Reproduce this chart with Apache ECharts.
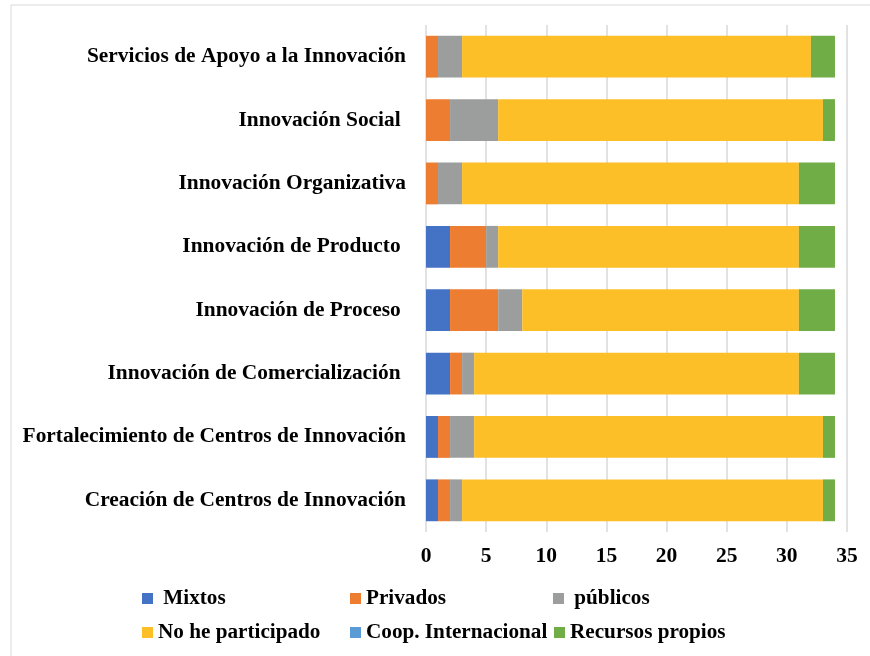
<!DOCTYPE html>
<html>
<head>
<meta charset="utf-8">
<script src="https://cdn.jsdelivr.net/npm/echarts@6/dist/echarts.min.js"></script>
<style>
  html, body { margin: 0; padding: 0; background: #fff; }
  #chart { width: 870px; height: 656px; }
</style>
</head>
<body>
<div id="chart"></div>
<script>
// categorías (de abajo hacia arriba, como en el eje)
const categories = [
  "Creación de Centros de Innovación",
  "Fortalecimiento de Centros de Innovación",
  "Innovación de Comercialización ",
  "Innovación de Proceso ",
  "Innovación de Producto ",
  "Innovación Organizativa",
  "Innovación Social ",
  "Servicios de Apoyo a la Innovación"
];
const mixtos = [1, 1, 2, 2, 2, 0, 0, 0];
const privados = [1, 1, 1, 4, 3, 1, 2, 1];
const publicos = [1, 2, 1, 2, 1, 2, 4, 2];
const noParticipado = [30, 29, 27, 23, 25, 28, 27, 29];
const coopInternacional = [0, 0, 0, 0, 0, 0, 0, 0];
const recursosPropios = [1, 1, 3, 3, 3, 3, 1, 2];
const xTicks = [0, 5, 10, 15, 20, 25, 30, 35];

const serieNames = [" Mixtos", "Privados", " públicos", "No he participado", "Coop. Internacional", "Recursos propios"];
const serieData = [mixtos, privados, publicos, noParticipado, coopInternacional, recursosPropios];
const colors = ["#4472c4", "#ed7d31", "#9c9e9e", "#fdbf27", "#5b9bd5", "#70ad47"];

const font = "'Liberation Serif', 'Times New Roman', serif";

// posiciones de la leyenda (3 columnas, 2 filas)
const legendPos = [
  [142, 588], [350, 588], [553, 588],
  [142, 622], [350, 622], [554, 622]
];

const chart = echarts.init(document.getElementById("chart"));
chart.setOption({
  animation: false,
  color: colors,
  graphic: [{
    type: "rect",
    shape: { x: 11, y: 5, width: 900, height: 700 },
    style: { fill: "none", stroke: "#d9d9d9", lineWidth: 1 }
  }],
  grid: { left: 426, right: 23, top: 25, bottom: 124 },
  xAxis: {
    type: "value",
    min: 0,
    max: 35,
    interval: 5,
    axisLine: { show: false },
    axisTick: { show: false },
    axisLabel: {
      margin: 13,
      color: "#000",
      fontFamily: font,
      fontWeight: "bold",
      fontSize: 21.5,
      formatter: v => (xTicks.includes(v) ? String(v) : "")
    },
    splitLine: { show: true, lineStyle: { color: "#d9d9d9", width: 1.5 } }
  },
  yAxis: {
    type: "category",
    data: categories,
    axisLine: { show: false },
    axisTick: { show: false },
    axisLabel: {
      margin: 20,
      color: "#000",
      fontFamily: font,
      fontWeight: "bold",
      fontSize: 21.4
    }
  },
  legend: serieNames.map((name, i) => ({
    data: [name],
    left: legendPos[i][0],
    top: legendPos[i][1],
    padding: 0,
    itemWidth: 11,
    itemHeight: 11,
    itemGap: 4,
    icon: "rect",
    textStyle: {
      color: "#000",
      fontFamily: font,
      fontWeight: "bold",
      fontSize: 21.2
    }
  })),
  series: serieNames.map((name, i) => ({
    name: name,
    type: "bar",
    stack: "total",
    barCategoryGap: "34%",
    data: serieData[i]
  }))
});
</script>
</body>
</html>
